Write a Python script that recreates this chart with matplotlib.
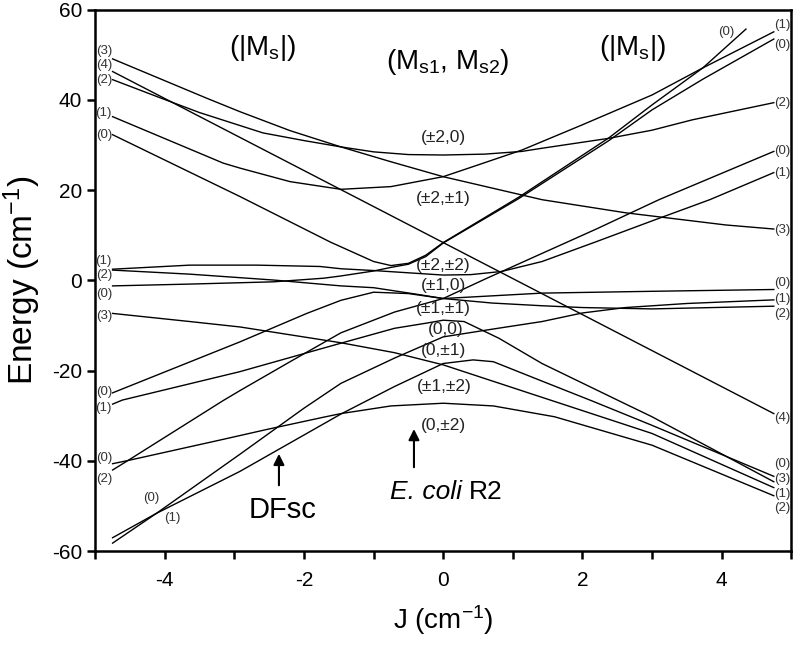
import numpy as np
import matplotlib.pyplot as plt

plt.rcParams['font.family'] = ['Liberation Sans', 'DejaVu Sans']
plt.rcParams['axes.unicode_minus'] = False
plt.rcParams['mathtext.fontset'] = 'custom'
plt.rcParams['mathtext.rm'] = 'Liberation Sans'
plt.rcParams['mathtext.it'] = 'Liberation Sans:italic'

# energy levels (J, E), one pair of lists per curve
j_a = [-4.75, -3.4, -2.92, -2.2, -1.47, -0.75, 0.0, 1.42, 2.62, 4.06, 4.75]
e_a = [49.1, 40.4, 37.4, 33.2, 29.6, 26.3, 23.0, 17.9, 15.0, 12.3, 11.4]
j_b = [-4.75, 0.0, 4.75]
e_b = [46.3, 8.4, -29.5]
j_c = [-4.75, -4.07, -3.5, -2.59, -2.0, -1.47, -1.0, -0.5, 0.0, 0.6, 1.13, 1.42, 2.38, 3.0, 3.58, 4.75]
e_c = [44.5, 40.5, 37.2, 32.7, 31.0, 29.6, 28.5, 27.9, 27.8, 28.0, 28.6, 29.3, 31.5, 33.3, 35.6, 39.4]
j_d = [-4.75, -3.16, -2.92, -2.2, -1.47, -0.75, 0.0, 0.5, 1.13, 2.0, 3.0, 3.73, 4.75]
e_d = [36.3, 26.0, 24.9, 21.9, 20.2, 20.8, 23.0, 25.6, 28.9, 34.5, 41.1, 47.1, 55.1]
j_e = [-4.75, -2.92, -1.62, -1.0, -0.75, -0.5, -0.25, 0.0, 1.08, 2.38, 3.0, 3.73, 4.35]
e_e = [32.3, 18.6, 8.5, 4.2, 3.3, 3.8, 5.6, 8.4, 18.4, 31.6, 38.9, 47.1, 55.7]
j_h = [-4.75, -3.64, -2.44, -1.72, -1.47, -1.0, -0.75, -0.5, -0.25, 0.0, 1.08, 2.38, 3.0, 3.73, 4.75]
e_h = [-1.2, -0.8, -0.3, 0.5, 1.0, 2.1, 2.9, 3.6, 5.3, 8.3, 18.1, 31.0, 37.8, 44.6, 53.5]
j_f = [-4.75, -3.64, -2.68, -1.77, -1.47, -1.0, -0.5, 0.0, 0.4, 0.84, 1.42, 2.2, 3.0, 3.83, 4.75]
e_f = [2.5, 3.4, 3.4, 3.1, 2.6, 2.2, 1.7, 1.2, 1.3, 2.0, 4.2, 8.6, 13.2, 17.9, 23.9]
j_g = [-4.75, -3.64, -2.44, -1.47, -1.0, -0.36, 0.0, 0.7, 1.42, 2.0, 3.0, 4.75]
e_g = [2.3, 1.4, 0.1, -1.2, -1.6, -3.1, -4.0, -5.0, -5.6, -6.0, -6.3, -5.7]
j_k = [-4.75, -2.92, -1.96, -1.47, -1.0, -0.5, 0.0, 0.6, 1.42, 2.2, 3.1, 4.75]
e_k = [-24.9, -13.6, -7.3, -4.4, -2.6, -2.9, -4.0, 0.3, 6.0, 11.4, 17.9, 28.6]
j_m = [-4.75, -4.53, -3.16, -2.92, -2.2, -1.47, -0.7, 0.0, 1.42, 3.0, 4.75]
e_m = [-42.0, -39.9, -26.6, -24.4, -18.0, -11.6, -7.0, -4.0, -2.8, -2.4, -2.0]
j_n = [-4.75, -4.53, -3.16, -2.53, -1.72, -1.47, -0.75, 0.0, 0.72, 1.6, 3.0, 4.75]
e_n = [-40.6, -39.9, -35.2, -33.0, -30.3, -29.5, -27.8, -27.2, -27.8, -30.2, -36.5, -47.7]
j_o = [-4.75, -4.12, -2.92, -1.47, -0.7, 0.0, 0.43, 0.72, 1.42, 2.14, 3.0, 4.75]
e_o = [-57.0, -51.6, -42.3, -29.6, -23.5, -18.4, -17.6, -18.0, -22.3, -26.7, -32.1, -43.4]
j_p = [-4.75, -4.12, -2.92, -2.0, -1.47, -0.7, 0.0, 0.7, 1.42, 2.0, 2.62, 3.5, 4.75]
e_p = [-58.2, -51.6, -38.5, -28.3, -22.8, -17.2, -12.5, -10.8, -9.1, -7.2, -6.0, -5.1, -4.3]
j_l = [-4.75, -4.61, -2.92, -1.47, -0.7, -0.22, 0.0, 0.3, 0.8, 1.42, 2.57, 3.0, 4.75]
e_l = [-27.4, -26.5, -20.2, -13.9, -10.6, -9.4, -8.8, -9.1, -12.8, -18.4, -27.0, -30.2, -44.6]
j_i = [-4.75, -3.64, -2.92, -1.47, -0.7, 0.0, 1.42, 3.0, 4.75]
e_i = [-7.3, -9.1, -10.3, -13.8, -16.0, -18.7, -25.9, -33.9, -45.9]

curves = [(j_a, e_a), (j_b, e_b), (j_c, e_c), (j_d, e_d), (j_e, e_e),
          (j_h, e_h), (j_f, e_f), (j_g, e_g), (j_k, e_k), (j_m, e_m),
          (j_n, e_n), (j_o, e_o), (j_p, e_p), (j_l, e_l), (j_i, e_i)]

# |Ms| labels at the ends of the curves
left_txt = ['(3)', '(4)', '(2)', '(1)', '(0)', '(1)', '(2)', '(0)', '(3)', '(0)', '(1)', '(0)', '(2)']
left_e = [50.8, 47.8, 44.5, 37.2, 32.3, 4.3, 1.2, -3.0, -7.9, -24.7, -28.3, -39.4, -44.0]
right_txt = ['(1)', '(0)', '(2)', '(0)', '(1)', '(3)', '(0)', '(1)', '(2)', '(4)', '(0)', '(3)', '(1)', '(2)']
right_e = [56.5, 52.1, 39.4, 28.6, 23.8, 11.2, -0.6, -4.0, -7.4, -30.4, -40.6, -44.0, -47.4, -50.5]

# (Ms1, Ms2) labels at J = 0
mid_txt = ['(±2,0)', '(±2,±1)', '(±2,±2)', '(±1,0)', '(±1,±1)', '(0,0)', '(0,±1)', '(±1,±2)', '(0,±2)']
mid_j = [0.0, 0.0, 0.0, 0.0, 0.0, 0.03, 0.01, 0.01, 0.0]
mid_e = [31.7, 18.2, 3.4, -1.2, -6.2, -10.8, -15.6, -23.5, -32.1]

fig = plt.figure(figsize=(8, 6.47), dpi=100)
ax = fig.add_axes([0.119, 0.148, 0.870, 0.837])

for jj, ee in curves:
    ax.plot(jj, ee, color='black', lw=1.0)

lab = dict(fontsize=9.5, color='#333333', va='center')
for t, e in zip(left_txt, left_e):
    ax.text(-4.76, e, t, ha='right', **lab)
ax.text(-4.19, -48.3, '(0)', ha='center', **lab)
ax.text(-3.89, -52.6, '(1)', ha='center', **lab)
ax.text(4.06, 55.1, '(0)', ha='center', **lab)
for t, e in zip(right_txt, right_e):
    ax.text(4.76, e, t, ha='left', **lab)

for t, j, e in zip(mid_txt, mid_j, mid_e):
    ax.text(j, e, t, ha='center', va='center', fontsize=12.5, color='#222222')

ax.text(-2.59, 51.6, '(|M$_\\mathregular{s}$|)', ha='center', va='center', fontsize=20)
ax.text(2.72, 51.6, '(|M$_\\mathregular{s}$|)', ha='center', va='center', fontsize=20)
ax.text(0.07, 48.4, '(M$_\\mathregular{s1}$, M$_\\mathregular{s2}$)', ha='center', va='center', fontsize=20)

ax.annotate('', xy=(-2.36, -37.8), xytext=(-2.36, -46.0),
            arrowprops=dict(arrowstyle='-|>', color='black', lw=1.5, mutation_scale=16))
ax.text(-2.31, -50.9, 'DFsc', ha='center', va='center', fontsize=21)
ax.annotate('', xy=(-0.42, -32.3), xytext=(-0.42, -42.0),
            arrowprops=dict(arrowstyle='-|>', color='black', lw=1.5, mutation_scale=16))
ax.text(0.27, -46.8, 'E. coli', ha='right', va='center', fontsize=19, style='italic')
ax.text(0.37, -46.8, 'R2', ha='left', va='center', fontsize=19)

ax.set_xlim(-5, 5)
ax.set_ylim(-60, 60)
ax.set_xticks(np.arange(-5, 6, 1))
ax.set_xticklabels(['' if k % 2 else str(k) for k in range(-5, 6)])
ax.set_yticks(np.arange(-60, 61, 20))
ax.tick_params(direction='out', length=6, width=1.8, labelsize=15)
ax.tick_params(axis='x', pad=8)
for s in ax.spines.values():
    s.set_linewidth(1.8)

ax.set_xlabel('J (cm$^{\\mathregular{-1}}$)', fontsize=20, labelpad=10)
ax.set_ylabel('Energy (cm$^{\\mathregular{-1}}$)', fontsize=24, labelpad=6)

fig.savefig('out.png', dpi=100)
